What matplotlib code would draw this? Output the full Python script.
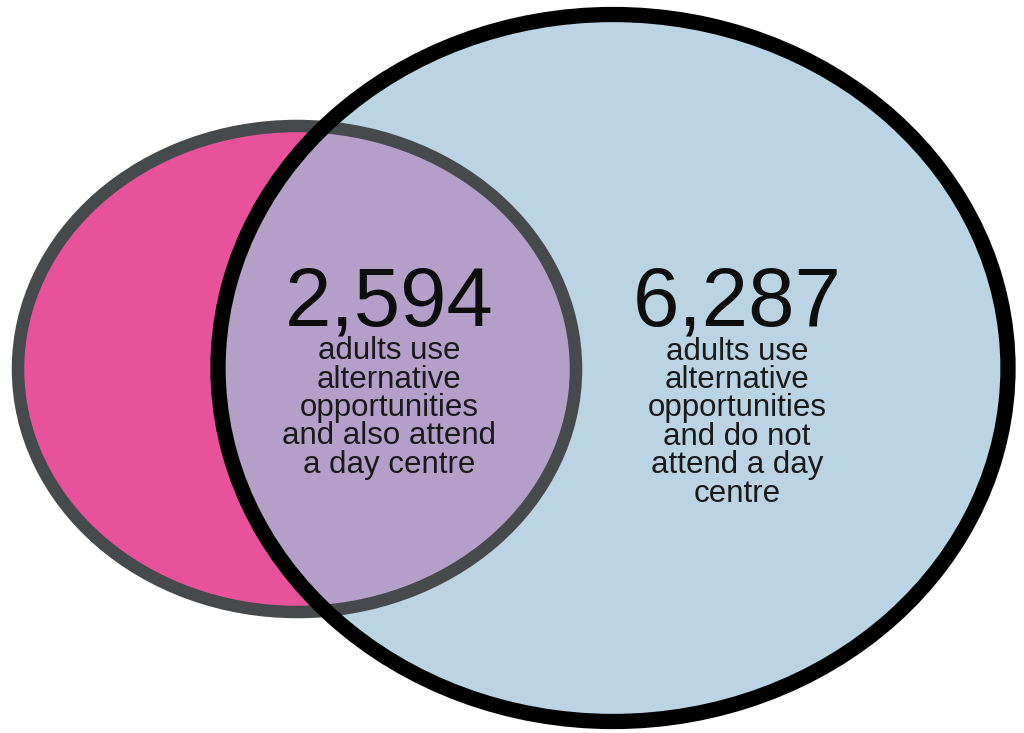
import matplotlib.pyplot as plt
from matplotlib.patches import Ellipse

plt.rcParams['font.family'] = ['Liberation Sans', 'DejaVu Sans']

# counts for the two regions
both_count = 2594
alt_only_count = 6287
both_label = "adults use\nalternative\nopportunities\nand also attend\na day centre"
alt_only_label = "adults use\nalternative\nopportunities\nand do not\nattend a day\ncentre"

PINK = "#e8529b"
BLUE = "#bad4e4"
PURPLE = "#b49fc8"
GREY_EDGE = "#474a4c"

fig = plt.figure(figsize=(10.24, 7.33), dpi=100)
ax = fig.add_axes([0, 0, 1, 1])
ax.set_xlim(0, 1024)
ax.set_ylim(733, 0)
ax.axis("off")

# day centre set (pink) and alternative opportunities set (blue)
pink_geom = dict(xy=(297, 369), width=558, height=486)
blue_geom = dict(xy=(613, 368), width=790, height=707)

ax.add_patch(Ellipse(**pink_geom, facecolor=PINK, edgecolor="none", zorder=1))
blue_fill = Ellipse(**blue_geom, facecolor=BLUE, edgecolor="none", zorder=2)
ax.add_patch(blue_fill)

# overlap: pink area clipped to the blue ellipse
overlap = Ellipse(**pink_geom, facecolor=PURPLE, edgecolor="none", zorder=3)
ax.add_patch(overlap)
overlap.set_clip_path(blue_fill)

ax.add_patch(Ellipse(**pink_geom, facecolor="none", edgecolor=GREY_EDGE,
                     linewidth=9, zorder=4))
ax.add_patch(Ellipse(**blue_geom, facecolor="none", edgecolor="black",
                     linewidth=11, zorder=5))

first_baseline = 358
line_gap = 28.7
for x, count, label in [(389, both_count, both_label),
                        (737, alt_only_count, alt_only_label)]:
    ax.text(x, 326, f"{count:,}", ha="center", va="baseline",
            fontsize=60, color="#0d0d0d", zorder=6)
    # baseline alignment uses the last line, so offset by the line count
    n_lines = label.count("\n") + 1
    ax.text(x, first_baseline + (n_lines - 1) * line_gap, label,
            ha="center", va="baseline", fontsize=22.5,
            color="#1a1a1a", linespacing=0.93, zorder=6)

fig.savefig("out.png", dpi=100)
